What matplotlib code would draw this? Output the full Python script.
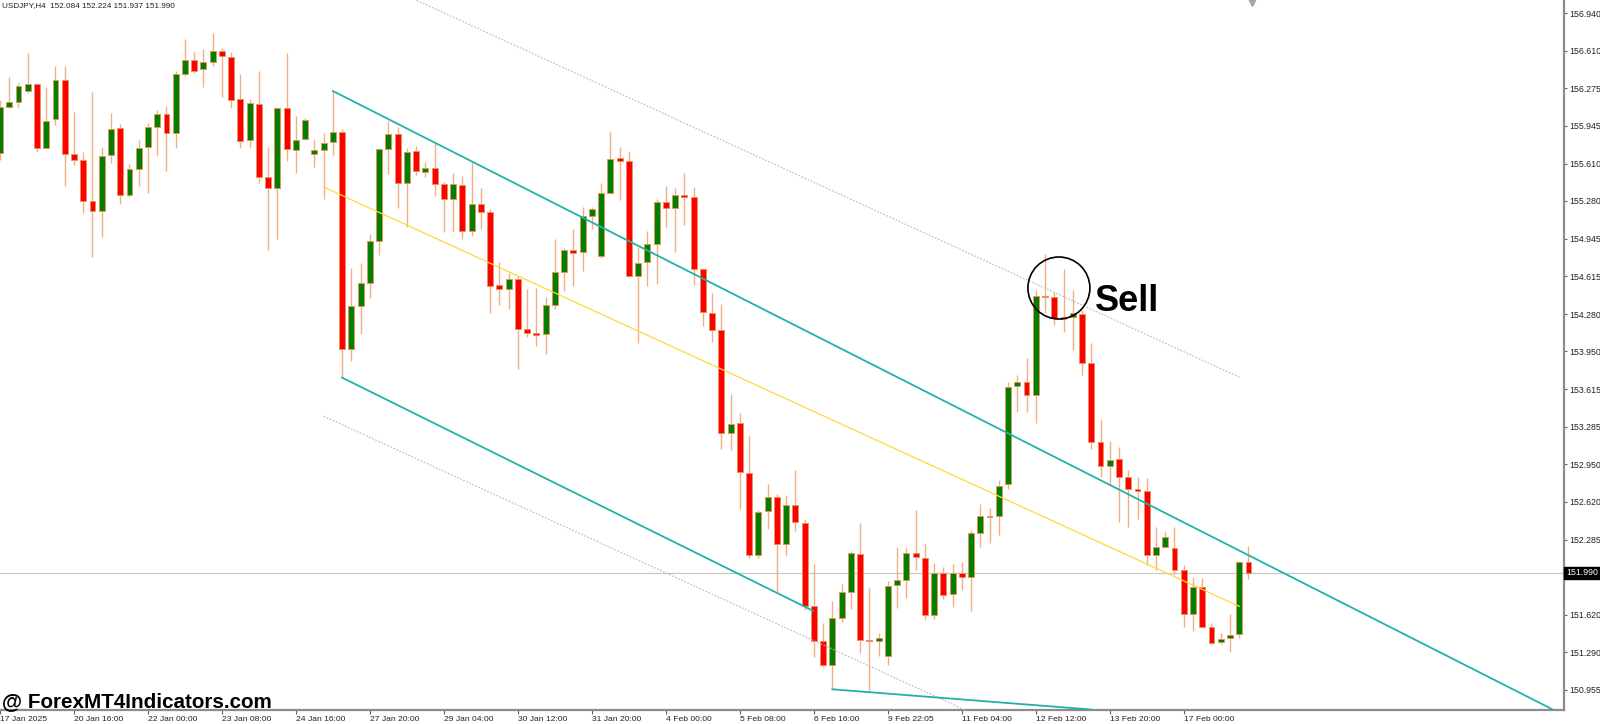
import matplotlib
matplotlib.use("Agg")
import matplotlib.pyplot as plt
from matplotlib.patches import Ellipse
import numpy as np

plt.rcParams['font.family'] = ['Liberation Sans', 'DejaVu Sans']

title_text = "USDJPY,H4  152.084 152.224 151.937 151.990"

opens = [
155.701, 156.108, 156.158, 156.252, 156.314, 155.748, 156.002, 156.347, 155.695, 155.639,
155.277, 155.191, 155.684, 155.922, 155.335, 155.562, 155.757, 155.934, 156.049, 155.881,
156.403, 156.524, 156.444, 156.509, 156.609, 156.550, 156.179, 155.816, 156.140, 155.492,
155.392, 156.099, 155.733, 155.830, 155.695, 155.728, 155.804, 155.890, 153.968, 154.351,
154.552, 154.923, 155.742, 155.869, 155.441, 155.722, 155.539, 155.569, 155.430, 155.297,
155.424, 155.014, 155.250, 155.182, 154.534, 154.504, 154.592, 154.145, 154.115, 154.101,
154.360, 154.654, 154.849, 154.826, 155.147, 154.793, 155.353, 155.657, 155.633, 154.616,
154.739, 154.900, 155.270, 155.218, 155.329, 155.317, 154.675, 154.290, 154.135, 153.228,
153.314, 152.875, 152.145, 152.534, 152.661, 152.247, 152.587, 152.436, 151.697, 151.391,
151.173, 151.589, 151.823, 152.157, 151.397, 151.388, 151.255, 151.881, 151.928, 152.169,
152.125, 151.618, 151.987, 151.801, 151.987, 151.957, 152.346, 152.496, 152.494, 152.777,
153.643, 153.681, 153.561, 154.442, 154.433, 154.236, 154.251, 154.280, 153.849, 153.145,
152.938, 152.998, 152.841, 152.735, 152.712, 152.149, 152.222, 152.208, 152.016, 151.627,
151.868, 151.509, 151.375, 151.412, 151.446, 152.084]

highs = [
156.173, 156.379, 156.323, 156.586, 156.323, 156.290, 156.473, 156.473, 156.069, 155.715,
156.246, 155.760, 156.055, 155.958, 155.607, 155.819, 155.967, 156.084, 156.120, 156.432,
156.715, 156.600, 156.621, 156.763, 156.630, 156.600, 156.400, 156.181, 156.429, 155.760,
156.113, 156.586, 156.031, 156.011, 155.825, 155.883, 156.252, 155.914, 154.690, 154.734,
154.988, 155.751, 155.990, 155.937, 155.751, 155.766, 155.622, 155.795, 155.445, 155.524,
155.501, 155.622, 155.392, 155.209, 154.737, 154.645, 154.616, 154.498, 154.507, 154.428,
154.941, 154.861, 155.029, 155.224, 155.229, 155.436, 155.890, 155.754, 155.722, 154.875,
155.014, 155.297, 155.409, 155.395, 155.528, 155.399, 154.687, 154.467, 154.366, 153.576,
153.403, 153.210, 152.550, 152.777, 152.692, 152.676, 152.897, 152.467, 152.066, 151.545,
151.744, 151.893, 152.187, 152.429, 151.861, 151.461, 151.921, 152.222, 152.217, 152.547,
152.246, 152.075, 152.040, 152.066, 152.089, 152.370, 152.600, 152.562, 152.812, 153.681,
153.741, 153.894, 154.492, 154.808, 154.472, 154.675, 154.492, 154.315, 154.021, 153.349,
153.157, 153.106, 152.900, 152.836, 152.827, 152.394, 152.361, 152.394, 152.060, 151.957,
151.943, 151.545, 151.456, 151.627, 152.098, 152.224]

lows = [
155.642, 156.102, 156.111, 156.232, 155.710, 155.742, 155.952, 155.415, 155.598, 155.176,
154.781, 154.958, 155.618, 155.253, 155.312, 155.415, 155.353, 155.680, 155.547, 155.745,
156.385, 156.414, 156.285, 156.476, 156.202, 156.105, 155.745, 155.751, 155.436, 154.846,
154.941, 155.633, 155.524, 155.819, 155.577, 155.294, 155.686, 153.717, 153.867, 154.103,
154.419, 154.802, 155.518, 155.215, 155.052, 155.509, 155.489, 155.326, 155.008, 155.008,
154.941, 154.973, 155.029, 154.286, 154.360, 154.322, 153.796, 154.079, 154.000, 153.924,
154.322, 154.486, 154.530, 154.663, 155.029, 154.773, 155.348, 155.288, 154.605, 154.021,
154.524, 154.549, 155.045, 154.830, 155.071, 154.540, 154.177, 154.034, 153.083, 153.077,
152.559, 152.123, 152.123, 152.376, 151.823, 152.140, 152.360, 151.666, 151.248, 151.160,
150.961, 151.555, 151.668, 151.279, 150.941, 151.255, 151.176, 151.677, 151.771, 152.016,
151.574, 151.580, 151.757, 151.686, 151.839, 151.656, 152.222, 152.252, 152.326, 152.730,
153.416, 153.416, 153.319, 154.286, 154.183, 154.123, 153.962, 153.741, 153.083, 152.836,
152.759, 152.443, 152.394, 152.470, 152.060, 152.016, 152.213, 151.972, 151.514, 151.479,
151.500, 151.362, 151.362, 151.291, 151.417, 151.937]

closes = [
156.108, 156.152, 156.299, 156.311, 155.751, 155.990, 156.350, 155.695, 155.642, 155.282,
155.191, 155.680, 155.916, 155.335, 155.560, 155.751, 155.931, 156.051, 155.881, 156.405,
156.524, 156.429, 156.506, 156.609, 156.559, 156.175, 155.810, 156.143, 155.489, 155.392,
156.099, 155.739, 155.822, 155.998, 155.728, 155.795, 155.890, 153.968, 154.351, 154.552,
154.923, 155.742, 155.869, 155.441, 155.715, 155.545, 155.569, 155.430, 155.294, 155.430,
155.014, 155.250, 155.185, 154.530, 154.504, 154.592, 154.145, 154.115, 154.094, 154.357,
154.654, 154.846, 154.820, 155.147, 155.209, 155.353, 155.653, 155.630, 154.616, 154.728,
154.896, 155.270, 155.218, 155.329, 155.317, 154.682, 154.297, 154.142, 153.228, 153.308,
152.882, 152.145, 152.528, 152.661, 152.247, 152.587, 152.442, 151.697, 151.391, 151.173,
151.589, 151.823, 152.164, 151.397, 151.391, 151.417, 151.874, 151.928, 152.169, 152.128,
151.618, 151.987, 151.795, 151.987, 151.957, 152.341, 152.496, 152.487, 152.762, 153.637,
153.681, 153.561, 154.442, 154.433, 154.242, 154.251, 154.286, 153.849, 153.145, 152.938,
152.989, 152.841, 152.735, 152.712, 152.149, 152.217, 152.305, 152.016, 151.627, 151.868,
151.509, 151.370, 151.403, 151.441, 152.084, 151.990]

# time axis labels every 8 bars
time_tick_bars = [0, 8, 16, 24, 32, 40, 48, 56, 64, 72, 80, 88, 96, 104, 112, 120, 128]
time_tick_labels = ["17 Jan 2025", "20 Jan 16:00", "22 Jan 00:00", "23 Jan 08:00",
                    "24 Jan 16:00", "27 Jan 20:00", "29 Jan 04:00", "30 Jan 12:00",
                    "31 Jan 20:00", "4 Feb 00:00", "5 Feb 08:00", "6 Feb 16:00",
                    "9 Feb 22:05", "11 Feb 04:00", "12 Feb 12:00", "13 Feb 20:00",
                    "17 Feb 00:00"]

price_ticks = [156.940, 156.610, 156.275, 155.945, 155.610, 155.280, 154.945, 154.615,
               154.280, 153.950, 153.615, 153.285, 152.950, 152.620, 152.285, 151.955,
               151.620, 151.290, 150.955]
price_tick_labels = ["%.3f" % p for p in price_ticks]

current_price = 151.990

# drawn objects (bar index, price)
upper_channel = ([36, 175], [156.252, 150.488])
lower_channel = ([37, 87.9], [153.717, 151.656])
bottom_line = ([90, 118], [150.961, 150.782])
mid_line = ([35, 134], [155.403, 151.695])
dev_upper = ([35, 134], [157.430, 153.722])
dev_lower = ([35, 134], [153.376, 149.668])
sell_circle_center = (114.5, 154.510)
sell_label_pos = (118.4, 154.306)
shift_marker_bar = 135.4

n = min(len(opens), len(highs), len(lows), len(closes))
idx = np.arange(n)
o = np.array(opens[:n]); h = np.array(highs[:n]); l = np.array(lows[:n]); c = np.array(closes[:n])

W, H = 1600, 724
fig = plt.figure(figsize=(W / 100, H / 100), dpi=100)
fig.patch.set_facecolor('white')
ax = fig.add_axes([0, 14 / H, 1564 / W, 710 / H])
ax.set_facecolor('white')

px_per_bar = 9.248
ax.set_xlim(0, 1564 / px_per_bar)
ax.set_ylim(150.778, 157.057)

# current price line
ax.axhline(current_price, color='#C8C8C8', lw=0.9, zorder=1)

# candles
wick_col = '#F0AE84'
edge_col = '#E3945E'
ax.vlines(idx, l, h, color=wick_col, lw=1.0, zorder=2)
up = c >= o
bottoms = np.minimum(o, c)
heights = np.abs(c - o)
colors = np.where(up, '#008000', '#FF0000')
ax.bar(idx, heights, bottom=bottoms, width=0.64, color=colors, edgecolor=edge_col,
       linewidth=0.7, zorder=3)

# channel / trend objects
ax.plot(*dev_upper, color='#B8B8B8', lw=0.8, ls=(0, (1.5, 1.5)), zorder=4)
ax.plot(*dev_lower, color='#B8B8B8', lw=0.8, ls=(0, (1.5, 1.5)), zorder=4)
ax.plot(*mid_line, color='#FFD83A', lw=0.9, zorder=4)
ax.plot(*upper_channel, color='#20B2AA', lw=1.3, zorder=5)
ax.plot(*lower_channel, color='#20B2AA', lw=1.3, zorder=5)
ax.plot(*bottom_line, color='#20B2AA', lw=1.3, zorder=5)

# sell annotation
circ = Ellipse(sell_circle_center, width=62 / px_per_bar, height=62 * 0.008844,
               fill=False, ec='black', lw=1.2, zorder=6)
ax.add_patch(circ)
ax.text(sell_label_pos[0], sell_label_pos[1], 'Sell', fontsize=26, fontweight='bold',
        color='black', va='baseline', ha='left', zorder=7)

# chart shift marker
ax.plot([shift_marker_bar], [157.035], marker='v', color='#A8A8A8', markersize=6,
        clip_on=False, zorder=6)

# axes styling
for s in ['top', 'left']:
    ax.spines[s].set_visible(False)
for s in ['right', 'bottom']:
    ax.spines[s].set_color('#8C8C8C')
    ax.spines[s].set_linewidth(1.6)

ax.yaxis.tick_right()
ax.set_yticks(price_ticks)
ax.set_yticklabels(price_tick_labels)
ax.tick_params(axis='y', length=2, width=0.8, color='#606060', pad=2, labelsize=6.3,
               labelcolor='#222222')
ax.set_xticks(time_tick_bars)
ax.set_xticklabels(time_tick_labels)
ax.tick_params(axis='x', length=3, width=0.8, color='#606060', pad=1.5, labelsize=6.1,
               labelcolor='#222222')
for lab in ax.get_xticklabels():
    lab.set_ha('left')

# current price label box
ax.annotate('%.3f' % current_price, xy=(1, current_price), xycoords=('axes fraction', 'data'),
            xytext=(1.5, 0), textcoords='offset points', va='center', ha='left',
            color='white', fontsize=6.3, annotation_clip=False, zorder=10,
            bbox=dict(boxstyle='square,pad=0.2', fc='black', ec='black'))

# header and watermark
fig.text(2 / W, 1 - 2 / H, title_text, fontsize=5.9, color='#222222', va='top', ha='left')
fig.text(2 / W, (H - 707) / H, '@ ForexMT4Indicators.com', fontsize=14.9,
         fontweight='bold', color='black', va='baseline', ha='left')

fig.savefig('out.png', dpi=100)
